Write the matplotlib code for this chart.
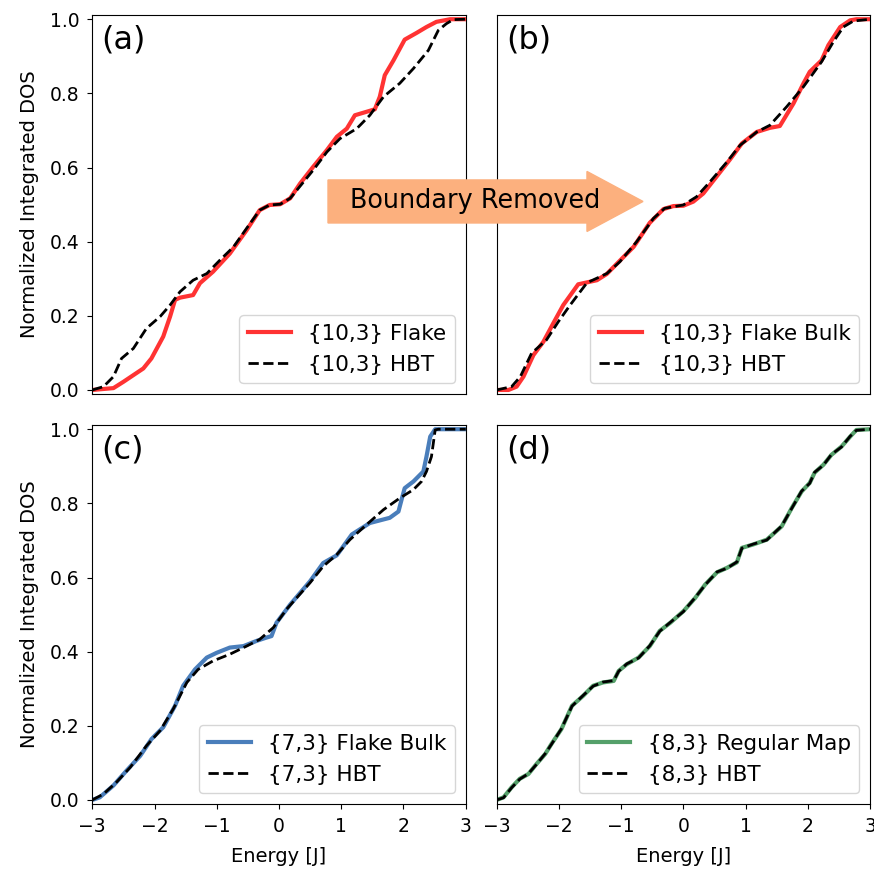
import matplotlib
matplotlib.use("Agg")
import matplotlib.pyplot as plt
from matplotlib.patches import FancyArrow
import numpy as np

# (a) {10,3} flake vs HBT
a_flake_E = [-3.0, -2.66, -2.50, -2.34, -2.18, -2.05, -1.86, -1.75, -1.67, -1.59, -1.38, -1.27, -1.06,
             -0.79, -0.52, -0.31, -0.15, 0.02, 0.18, 0.34, 0.55, 0.77, 0.93, 1.09, 1.22, 1.36, 1.54,
             1.62, 1.70, 1.84, 2.02, 2.21, 2.37, 2.53, 2.75, 3.0]
a_flake_N = [0.0, 0.005, 0.022, 0.040, 0.058, 0.085, 0.144, 0.198, 0.243, 0.249, 0.256, 0.288, 0.319,
             0.368, 0.431, 0.485, 0.499, 0.501, 0.517, 0.557, 0.602, 0.647, 0.683, 0.705, 0.741, 0.748, 0.757,
             0.791, 0.849, 0.889, 0.945, 0.963, 0.979, 0.993, 1.0, 1.0]
a_hbt_E = [-3.0, -2.82, -2.66, -2.53, -2.34, -2.13, -1.91, -1.75, -1.59, -1.38, -1.16, -0.95, -0.73,
           -0.52, -0.31, -0.15, 0.02, 0.18, 0.55, 0.77, 0.98, 1.25, 1.46, 1.68, 1.94, 2.16, 2.40,
           2.56, 2.69, 2.80, 3.0]
a_hbt_N = [0.0, 0.009, 0.036, 0.085, 0.112, 0.166, 0.198, 0.229, 0.265, 0.296, 0.314, 0.350, 0.386,
           0.436, 0.485, 0.499, 0.501, 0.517, 0.593, 0.642, 0.678, 0.705, 0.741, 0.791, 0.827, 0.867, 0.916,
           0.970, 0.988, 0.999, 1.0]

# (b) {10,3} flake bulk vs HBT
b_bulk_E = [-3.0, -2.81, -2.68, -2.57, -2.41, -2.25, -2.09, -1.93, -1.69, -1.39, -1.23, -0.96, -0.80,
            -0.54, -0.32, -0.16, 0.0, 0.16, 0.32, 0.54, 0.75, 0.94, 1.18, 1.39, 1.55, 1.77, 1.93,
            2.03, 2.22, 2.33, 2.52, 2.68, 2.78, 3.0]
b_bulk_N = [0.0, 0.0, 0.009, 0.036, 0.094, 0.130, 0.180, 0.229, 0.285, 0.296, 0.313, 0.359, 0.386,
            0.451, 0.488, 0.496, 0.497, 0.508, 0.530, 0.577, 0.622, 0.665, 0.696, 0.707, 0.712, 0.773, 0.827,
            0.858, 0.889, 0.930, 0.979, 0.997, 1.0, 1.0]
b_hbt_E = [-3.0, -2.76, -2.62, -2.44, -2.20, -2.01, -1.82, -1.55, -1.23, -1.02, -0.75, -0.48, -0.30,
           0.0, 0.21, 0.43, 0.70, 0.91, 1.18, 1.39, 1.66, 1.93, 2.22, 2.41, 2.57, 2.73, 3.0]
b_hbt_N = [0.0, 0.009, 0.036, 0.099, 0.135, 0.184, 0.229, 0.289, 0.314, 0.346, 0.400, 0.463, 0.490,
           0.499, 0.521, 0.562, 0.615, 0.660, 0.696, 0.714, 0.764, 0.818, 0.885, 0.939, 0.979, 0.995, 1.0]

# (c) {7,3} flake bulk vs HBT
c_bulk_E = [-3.0, -2.88, -2.66, -2.45, -2.23, -2.05, -1.86, -1.67, -1.54, -1.35, -1.16, -1.00, -0.79,
            -0.57, -0.36, -0.20, -0.12, -0.04, 0.18, 0.50, 0.71, 0.93, 1.17, 1.46, 1.78, 1.92, 1.97,
            2.02, 2.16, 2.32, 2.37, 2.43, 2.51, 3.0]
c_bulk_N = [0.0, 0.007, 0.039, 0.079, 0.119, 0.164, 0.196, 0.254, 0.308, 0.352, 0.384, 0.397, 0.411,
            0.415, 0.429, 0.438, 0.442, 0.478, 0.527, 0.590, 0.639, 0.660, 0.716, 0.747, 0.761, 0.778, 0.810,
            0.841, 0.859, 0.886, 0.926, 0.980, 1.0, 1.0]
c_hbt_E = [-3.0, -2.82, -2.61, -2.39, -2.13, -1.91, -1.70, -1.48, -1.30, -1.06, -0.79, -0.52, -0.31,
           -0.09, 0.12, 0.50, 0.71, 0.93, 1.14, 1.41, 1.68, 1.94, 2.16, 2.29, 2.37, 2.45, 2.51, 2.56, 3.0]
c_hbt_N = [0.0, 0.016, 0.048, 0.088, 0.146, 0.187, 0.245, 0.317, 0.352, 0.375, 0.393, 0.415, 0.433,
           0.465, 0.514, 0.586, 0.630, 0.662, 0.702, 0.743, 0.783, 0.814, 0.837, 0.859, 0.886, 0.926, 0.998, 1.0, 1.0]

# (d) {8,3} regular map vs HBT
d_map_E = [-3.0, -2.89, -2.76, -2.63, -2.49, -2.36, -2.22, -2.12, -1.96, -1.79, -1.61, -1.45, -1.29,
           -1.12, -1.04, -0.91, -0.72, -0.54, -0.38, -0.21, 0.0, 0.19, 0.35, 0.54, 0.70, 0.86, 0.94,
           1.12, 1.34, 1.58, 1.74, 1.90, 2.03, 2.11, 2.25, 2.38, 2.54, 2.68, 2.78, 3.0]
d_map_N = [0.0, 0.007, 0.034, 0.057, 0.070, 0.097, 0.124, 0.151, 0.191, 0.254, 0.281, 0.308, 0.317,
           0.321, 0.348, 0.366, 0.384, 0.415, 0.456, 0.478, 0.509, 0.545, 0.581, 0.614, 0.626, 0.641, 0.680,
           0.689, 0.702, 0.738, 0.787, 0.832, 0.855, 0.883, 0.904, 0.931, 0.953, 0.980, 0.998, 1.0]
d_hbt_E = [-3.0, -2.89, -2.76, -2.63, -2.49, -2.36, -2.22, -2.12, -1.96, -1.79, -1.61, -1.45, -1.29,
           -1.12, -1.04, -0.91, -0.72, -0.54, -0.38, -0.21, 0.0, 0.19, 0.35, 0.54, 0.70, 0.86, 0.94,
           1.12, 1.34, 1.58, 1.74, 1.90, 2.03, 2.11, 2.25, 2.38, 2.54, 2.68, 2.78, 3.0]
d_hbt_N = [0.0, 0.006, 0.033, 0.056, 0.071, 0.096, 0.125, 0.150, 0.192, 0.253, 0.282, 0.307, 0.318,
           0.322, 0.347, 0.367, 0.383, 0.416, 0.455, 0.479, 0.508, 0.546, 0.580, 0.615, 0.625, 0.642, 0.679,
           0.690, 0.701, 0.739, 0.786, 0.833, 0.854, 0.884, 0.903, 0.932, 0.952, 0.981, 0.997, 1.0]

red = "#ff3333"
blue = "#4a7ebb"
green = "#55a06a"

panels = [
    ("(a)", a_flake_E, a_flake_N, a_hbt_E, a_hbt_N, red, "{10,3} Flake", "{10,3} HBT"),
    ("(b)", b_bulk_E, b_bulk_N, b_hbt_E, b_hbt_N, red, "{10,3} Flake Bulk", "{10,3} HBT"),
    ("(c)", c_bulk_E, c_bulk_N, c_hbt_E, c_hbt_N, blue, "{7,3} Flake Bulk", "{7,3} HBT"),
    ("(d)", d_map_E, d_map_N, d_hbt_E, d_hbt_N, green, "{8,3} Regular Map", "{8,3} HBT"),
]

fig = plt.figure(figsize=(8.74, 8.71), dpi=100)
lefts = [0.1056, 0.5683]
bottoms = [0.5476, 0.0769]
w, h = 0.4272, 0.435

for i, (tag, xe, ye, xh, yh, col, lab1, lab2) in enumerate(panels):
    row, colm = divmod(i, 2)
    ax = fig.add_axes([lefts[colm], bottoms[row], w, h])
    ax.plot(xe, ye, color=col, lw=3, label=lab1)
    ax.plot(xh, yh, "k--", lw=2, label=lab2)
    ax.set_xlim(-3, 3)
    ax.set_ylim(-0.011, 1.011)
    ax.set_xticks([-3, -2, -1, 0, 1, 2, 3])
    ax.set_yticks([0.0, 0.2, 0.4, 0.6, 0.8, 1.0])
    ax.tick_params(labelsize=13.5, pad=5.5)
    ax.text(0.025, 0.975, tag, transform=ax.transAxes, fontsize=23, va="top", ha="left")
    ax.legend(loc="lower right", fontsize=15.5)
    if row == 0:
        ax.tick_params(bottom=False, labelbottom=False)
    else:
        ax.set_xlabel("Energy [J]", fontsize=14, labelpad=8)
    if colm == 1:
        ax.tick_params(left=False, labelleft=False)
    else:
        ax.set_ylabel("Normalized Integrated DOS", fontsize=14, labelpad=8)

arrow = FancyArrow(0.3753, 0.7687, 0.3604, 0, width=0.0494, head_width=0.0689,
                   head_length=0.0641, length_includes_head=True, color="#fcb07e",
                   transform=fig.transFigure, zorder=5)
fig.patches.append(arrow)
fig.text(0.5435, 0.7687, "Boundary Removed", fontsize=18.4, ha="center", va="center", zorder=6)

fig.savefig("out.png", dpi=100)
